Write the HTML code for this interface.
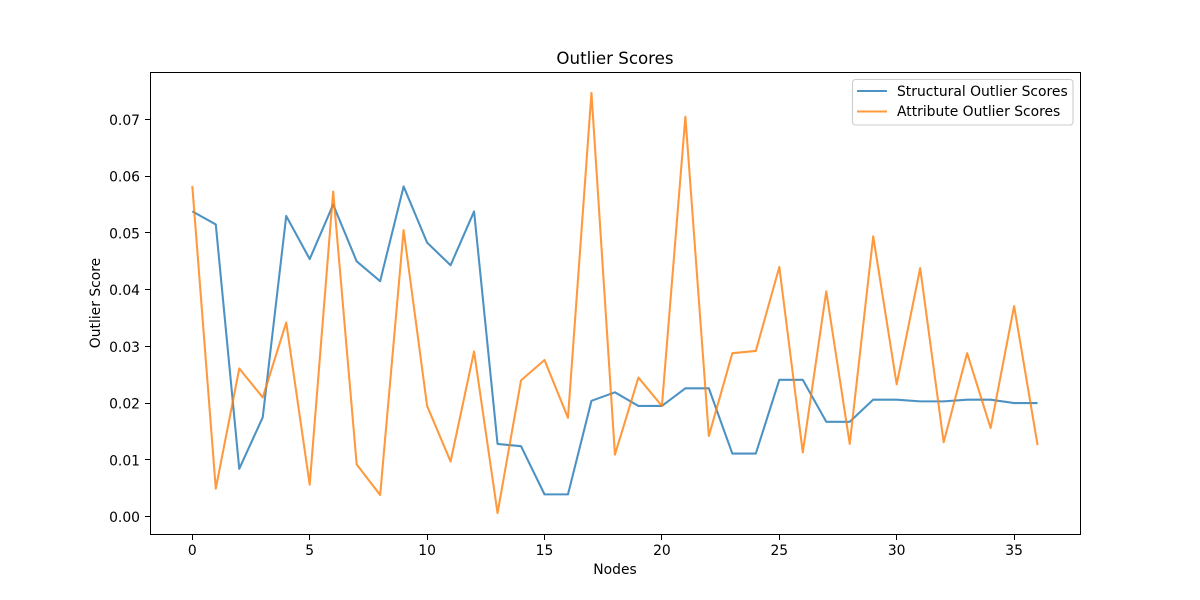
<!DOCTYPE html>
<html>
<head>
<meta charset="utf-8">
<title>Outlier Scores</title>
<style>
html,body{margin:0;padding:0;background:#fff;}
svg{display:block;}
text{font-family:"DejaVu Sans",sans-serif;font-size:13.89px;fill:#000;}
</style>
</head>
<body>
<svg id="chart" width="1200" height="600" viewBox="0 0 1200 600" xmlns="http://www.w3.org/2000/svg">
  <rect x="0" y="0" width="1200" height="600" fill="#fff"/>
  <text x="615" y="64" text-anchor="middle" style="font-size:16.67px">Outlier Scores</text>
  <g id="marks"></g>
  <g id="ticks"></g>
  <rect x="150.5" y="72.5" width="930" height="462" fill="none" stroke="#000" stroke-width="1" shape-rendering="crispEdges"/>
  <text x="615" y="574" text-anchor="middle">Nodes</text>
  <text transform="translate(100,303) rotate(-90)" text-anchor="middle">Outlier Score</text>
  <g>
    <rect x="852.5" y="79.5" width="220.5" height="45.5" rx="3" ry="3" fill="#fff" fill-opacity="0.8" stroke="#ccc" stroke-width="1.1"/>
    <line x1="857" y1="91" x2="887" y2="91" stroke="#1f77b4" stroke-opacity="0.8" stroke-width="2.08"/>
    <text x="897" y="96">Structural Outlier Scores</text>
    <line x1="857" y1="111.5" x2="887" y2="111.5" stroke="#ff7f0e" stroke-opacity="0.8" stroke-width="2.08"/>
    <text x="897" y="116">Attribute Outlier Scores</text>
  </g>
</svg>
<script>
const structuralScores = [0.0538,0.0515,0.0084,0.0175,0.0530,0.0454,0.0550,0.0450,0.0415,0.0582,0.0483,0.0443,0.0538,0.0128,0.0124,0.0039,0.0039,0.0204,0.0219,0.0195,0.0195,0.0226,0.0226,0.0111,0.0111,0.0241,0.0241,0.0167,0.0167,0.0206,0.0206,0.0203,0.0203,0.0206,0.0206,0.0200,0.0200];
const attributeScores = [0.0583,0.0049,0.0261,0.0210,0.0342,0.0056,0.0573,0.0092,0.0038,0.0505,0.0195,0.0097,0.0291,0.0006,0.0240,0.0276,0.0174,0.0747,0.0109,0.0245,0.0195,0.0705,0.0142,0.0288,0.0292,0.0440,0.0113,0.0397,0.0128,0.0494,0.0233,0.0438,0.0131,0.0288,0.0156,0.0371,0.0126];
const xTickLabels = ["0","5","10","15","20","25","30","35"];
const yTickLabels = ["0.00","0.01","0.02","0.03","0.04","0.05","0.06","0.07"];

const NS = 'http://www.w3.org/2000/svg';
function xScale(v){ return 192.3 + v * 23.48; }
function yScale(v){ return 516.5 - v * 5671; }
function snap(p){ return Math.floor(p) + 0.5; }

const marks = document.getElementById('marks');
const ticks = document.getElementById('ticks');

function drawSeries(values, color, name){
  const line = document.createElementNS(NS, 'polyline');
  
  
  line.setAttribute('points', values.map((v, i) => xScale(i).toFixed(2) + ',' + yScale(v).toFixed(2)).join(' '));
  line.setAttribute('fill', 'none');
  line.setAttribute('stroke', color);
  line.setAttribute('stroke-opacity', '0.8');
  line.setAttribute('stroke-width', '2.08');
  line.setAttribute('stroke-linejoin', 'round');
  marks.appendChild(line);
}
drawSeries(structuralScores, '#1f77b4', 'structural-outlier-line');
drawSeries(attributeScores, '#ff7f0e', 'attribute-outlier-line');

xTickLabels.forEach(label => {
  const x = xScale(Number(label));
  const tick = document.createElementNS(NS, 'line');
  
  
  tick.setAttribute('x1', snap(x));
  tick.setAttribute('x2', snap(x));
  tick.setAttribute('y1', 535);
  tick.setAttribute('y2', 540);
  tick.setAttribute('stroke', '#000');
  tick.setAttribute('stroke-width', '1');
  tick.setAttribute('shape-rendering', 'crispEdges');
  ticks.appendChild(tick);
  const text = document.createElementNS(NS, 'text');
  
  
  text.setAttribute('x', x);
  text.setAttribute('y', 555);
  text.setAttribute('text-anchor', 'middle');
  text.textContent = label;
  ticks.appendChild(text);
});

yTickLabels.forEach(label => {
  const y = yScale(Number(label));
  const tick = document.createElementNS(NS, 'line');
  
  
  tick.setAttribute('x1', 145);
  tick.setAttribute('x2', 150);
  tick.setAttribute('y1', snap(y));
  tick.setAttribute('y2', snap(y));
  tick.setAttribute('stroke', '#000');
  tick.setAttribute('stroke-width', '1');
  tick.setAttribute('shape-rendering', 'crispEdges');
  ticks.appendChild(tick);
  const text = document.createElementNS(NS, 'text');
  
  
  text.setAttribute('x', 140);
  text.setAttribute('y', y + 5.5);
  text.setAttribute('text-anchor', 'end');
  text.textContent = label;
  ticks.appendChild(text);
});
</script>
</body>
</html>
